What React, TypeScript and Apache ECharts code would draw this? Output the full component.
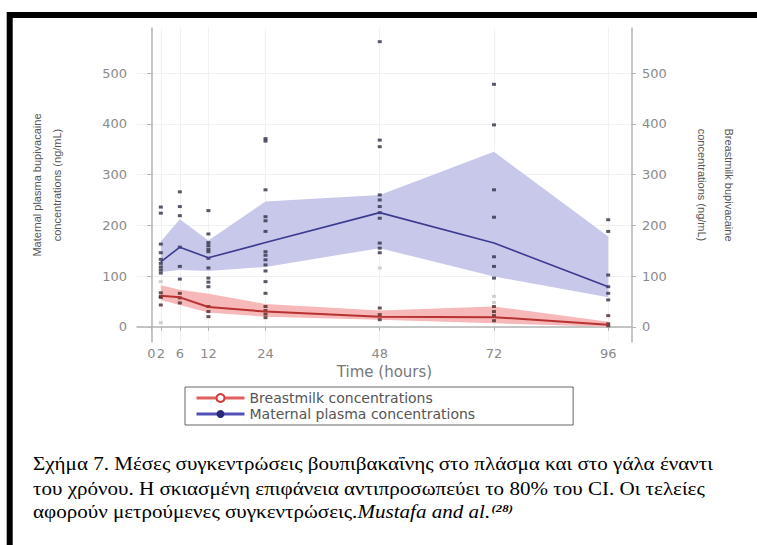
import React, { useEffect, useRef } from "react";
import * as echarts from "echarts";

// ---- data ----
const timeTicks = [0, 2, 6, 12, 24, 48, 72, 96];
const valueTicks = [0, 100, 200, 300, 400, 500];

const meanTimes = [2, 6, 12, 24, 48, 72, 96];
const plasmaMean = [128, 157, 136, 166, 225, 165, 79];
const plasmaUpper = [168, 212, 170, 247, 260, 345, 178];
const plasmaLower = [108, 112, 110, 118, 155, 99, 58];
const milkMean = [61, 58, 39, 30, 20, 19, 4];
const milkUpper = [82, 73, 65, 45, 32, 40, 10];
const milkLower = [53, 43, 28, 20, 14, 7, 0];

const plasmaObs: [number, number][] = [
  [2, 236], [2, 224], [2, 163], [2, 146], [2, 133], [2, 125], [2, 118], [2, 112], [2, 106],
  [6, 266], [6, 237], [6, 219], [6, 157], [6, 119], [6, 94],
  [12, 229], [12, 183], [12, 166], [12, 160], [12, 153], [12, 148], [12, 135], [12, 116], [12, 96], [12, 88], [12, 79],
  [24, 371], [24, 366], [24, 270], [24, 217], [24, 209], [24, 188], [24, 148], [24, 141], [24, 132], [24, 122], [24, 110], [24, 89], [24, 66],
  [48, 562], [48, 368], [48, 355], [48, 260], [48, 250], [48, 237], [48, 225], [48, 214], [48, 165], [48, 155], [48, 146],
  [72, 478], [72, 398], [72, 270], [72, 216], [72, 138], [72, 119], [72, 96],
  [96, 211], [96, 188], [96, 102], [96, 79], [96, 66], [96, 53],
];
const milkObs: [number, number][] = [
  [2, 67], [2, 60], [2, 58], [2, 43],
  [6, 66], [6, 57], [6, 47],
  [12, 40], [12, 30], [12, 20],
  [24, 40], [24, 32], [24, 25], [24, 18],
  [48, 37], [48, 24], [48, 14],
  [72, 40], [72, 30], [72, 22], [72, 12],
  [96, 22], [96, 6], [96, 2],
];
const faintObs: [number, number][] = [
  [2, 89], [2, 8], [48, 116], [72, 60], [72, 48],
];

const captionLines = [
  "Σχήμα 7. Μέσες συγκεντρώσεις βουπιβακαΐνης στο πλάσμα και στο γάλα έναντι",
  "του χρόνου. Η σκιασμένη επιφάνεια αντιπροσωπεύει το 80% του CI. Οι τελείες",
];
const captionLast = "αφορούν μετρούμενες συγκεντρώσεις.";
const captionAuthor = "Mustafa and al.";
const captionRef = "(28)";

const bandSeries = (yAxisIndex: number, lower: number[], upper: number[], fill: string) => ({
  type: "custom",
  yAxisIndex,
  silent: true,
  data: meanTimes.map((t, i) => [t, lower[i], upper[i]]),
  encode: { x: 0, y: [1, 2] },
  renderItem: (params: any, api: any) => {
    if (params.dataIndex !== 0) return { type: "group", children: [] };
    const top = meanTimes.map((t, i) => api.coord([t, upper[i]]));
    const bottom = meanTimes.map((t, i) => api.coord([t, lower[i]])).reverse();
    return { type: "polygon", shape: { points: [...top, ...bottom] }, style: { fill } };
  },
});

export default function App() {
  const ref = useRef<HTMLDivElement>(null);
  useEffect(() => {
    if (!ref.current) return;
    const chart = echarts.init(ref.current, null, { renderer: "svg" });
    const labelFont = "DejaVu Sans";
    const axisGray = "#b4b4b4";
    const labelColor = "#8a8a8a";
    const yCommon = {
      type: "value",
      min: -30,
      max: 589,
      axisLine: { show: true, lineStyle: { color: axisGray, width: 1.5 } },
      axisTick: { show: true, customValues: valueTicks, length: 4, lineStyle: { color: axisGray } },
      axisLabel: { customValues: valueTicks, color: labelColor, fontFamily: labelFont, fontSize: 13, margin: 10 },
      nameLocation: "middle",
      nameTextStyle: { fontFamily: "Liberation Sans", fontSize: 11, color: "#555", lineHeight: 20 },
    };
    const serif = "Liberation Serif";
    const option: any = {
      animation: false,
      backgroundColor: "#ffffff",
      grid: { left: 137, right: 125, top: 28, bottom: 203, containLabel: false },
      xAxis: {
        type: "value",
        min: -3,
        max: 101,
        axisLine: { show: true, lineStyle: { color: axisGray, width: 1.5 } },
        axisTick: { show: true, customValues: timeTicks, length: 4, lineStyle: { color: axisGray } },
        axisLabel: { customValues: timeTicks, color: labelColor, fontFamily: labelFont, fontSize: 13, margin: 5, hideOverlap: false },
        splitLine: { show: true, lineStyle: { color: "#f1f1f1" } },
        name: "Time (hours)",
        nameLocation: "middle",
        nameGap: 21,
        nameTextStyle: { fontFamily: labelFont, fontSize: 15, color: "#777" },
      },
      yAxis: [
        {
          ...yCommon,
          position: "left",
          splitLine: { show: true, lineStyle: { color: "#f1f1f1" } },
          name: "Maternal plasma bupivacaine\nconcentrations (ng/mL)",
          nameGap: 70,
        },
        {
          ...yCommon,
          position: "right",
          splitLine: { show: false },
          name: "Breastmilk bupivacaine\nconcentrations (ng/mL)",
          nameRotate: -90,
          nameGap: 56,
          nameTextStyle: { fontFamily: "Liberation Sans", fontSize: 11, color: "#555", lineHeight: 27 },
        },
      ],
      legend: {
        orient: "vertical",
        left: 185,
        top: 387,
        itemWidth: 48,
        itemHeight: 10,
        itemGap: 2,
        padding: [4, 98, 4, 10],
        borderColor: "#666",
        borderWidth: 1,
        textStyle: { color: "#555", fontFamily: labelFont, fontSize: 14, lineHeight: 14 },
        data: [
          { name: "Breastmilk concentrations", lineStyle: { width: 3, color: "#e06060" } },
          { name: "Maternal plasma concentrations", lineStyle: { width: 3, color: "#5050b8" } },
        ],
      },
      series: [
        bandSeries(0, plasmaLower, plasmaUpper, "#c8c8eb"),
        bandSeries(1, milkLower, milkUpper, "#f6b8b8"),
        {
          name: "Maternal plasma concentrations",
          type: "line", yAxisIndex: 0, symbol: "circle", showSymbol: false,
          lineStyle: { color: "#3b3b8f", width: 1.6 }, itemStyle: { color: "#2a2a7a" },
          data: meanTimes.map((t, i) => [t, plasmaMean[i]]),
        },
        {
          name: "Breastmilk concentrations",
          type: "line", yAxisIndex: 1, symbol: "emptyCircle", showSymbol: false,
          lineStyle: { color: "#b83232", width: 2 }, itemStyle: { color: "#d03a3a" },
          data: meanTimes.map((t, i) => [t, milkMean[i]]),
        },
        {
          type: "scatter", yAxisIndex: 0, symbol: "rect", symbolSize: [4, 3], silent: true,
          itemStyle: { color: "#2f2f45" }, data: plasmaObs,
        },
        {
          type: "scatter", yAxisIndex: 1, symbol: "rect", symbolSize: [4, 3], silent: true,
          itemStyle: { color: "#4a2b2b" }, data: milkObs,
        },
        {
          type: "scatter", yAxisIndex: 0, symbol: "rect", symbolSize: [4, 3], silent: true,
          itemStyle: { color: "#c4c4c4" }, data: faintObs,
        },
      ],
      graphic: [
        {
          type: "rect",
          shape: { x: 9.7, y: 15, width: 900, height: 700 },
          style: { fill: "none", stroke: "#000", lineWidth: 6 },
          z: 100,
        },
        {
          type: "text", left: 33, top: 455, scaleX: 1.17,
          style: { text: captionLines[0], fontFamily: serif, fontSize: 18, fill: "#000" },
        },
        {
          type: "text", left: 33, top: 480, scaleX: 1.17,
          style: { text: captionLines[1], fontFamily: serif, fontSize: 18, fill: "#000" },
        },
        {
          type: "text", left: 33, top: 503, scaleX: 1.17,
          style: {
            text: "{n|" + captionLast + "}{i|" + captionAuthor + "}{s|" + captionRef + "}",
            fill: "#000",
            rich: {
              n: { fontFamily: serif, fontSize: 18, fill: "#000" },
              i: { fontFamily: serif, fontSize: 18, fontStyle: "italic", fill: "#000" },
              s: { fontFamily: serif, fontSize: 11, fontStyle: "italic", fontWeight: "bold", fill: "#000", verticalAlign: "top", padding: [0, 0, 8, 1] },
            },
          },
        },
      ],
    };
    chart.setOption(option);
    return () => chart.dispose();
  }, []);
  return (
    <div
      ref={ref}
      style={{ position: "absolute", left: 0, top: 0, width: 757, height: 545, background: "#fff" }}
    />
  );
}
